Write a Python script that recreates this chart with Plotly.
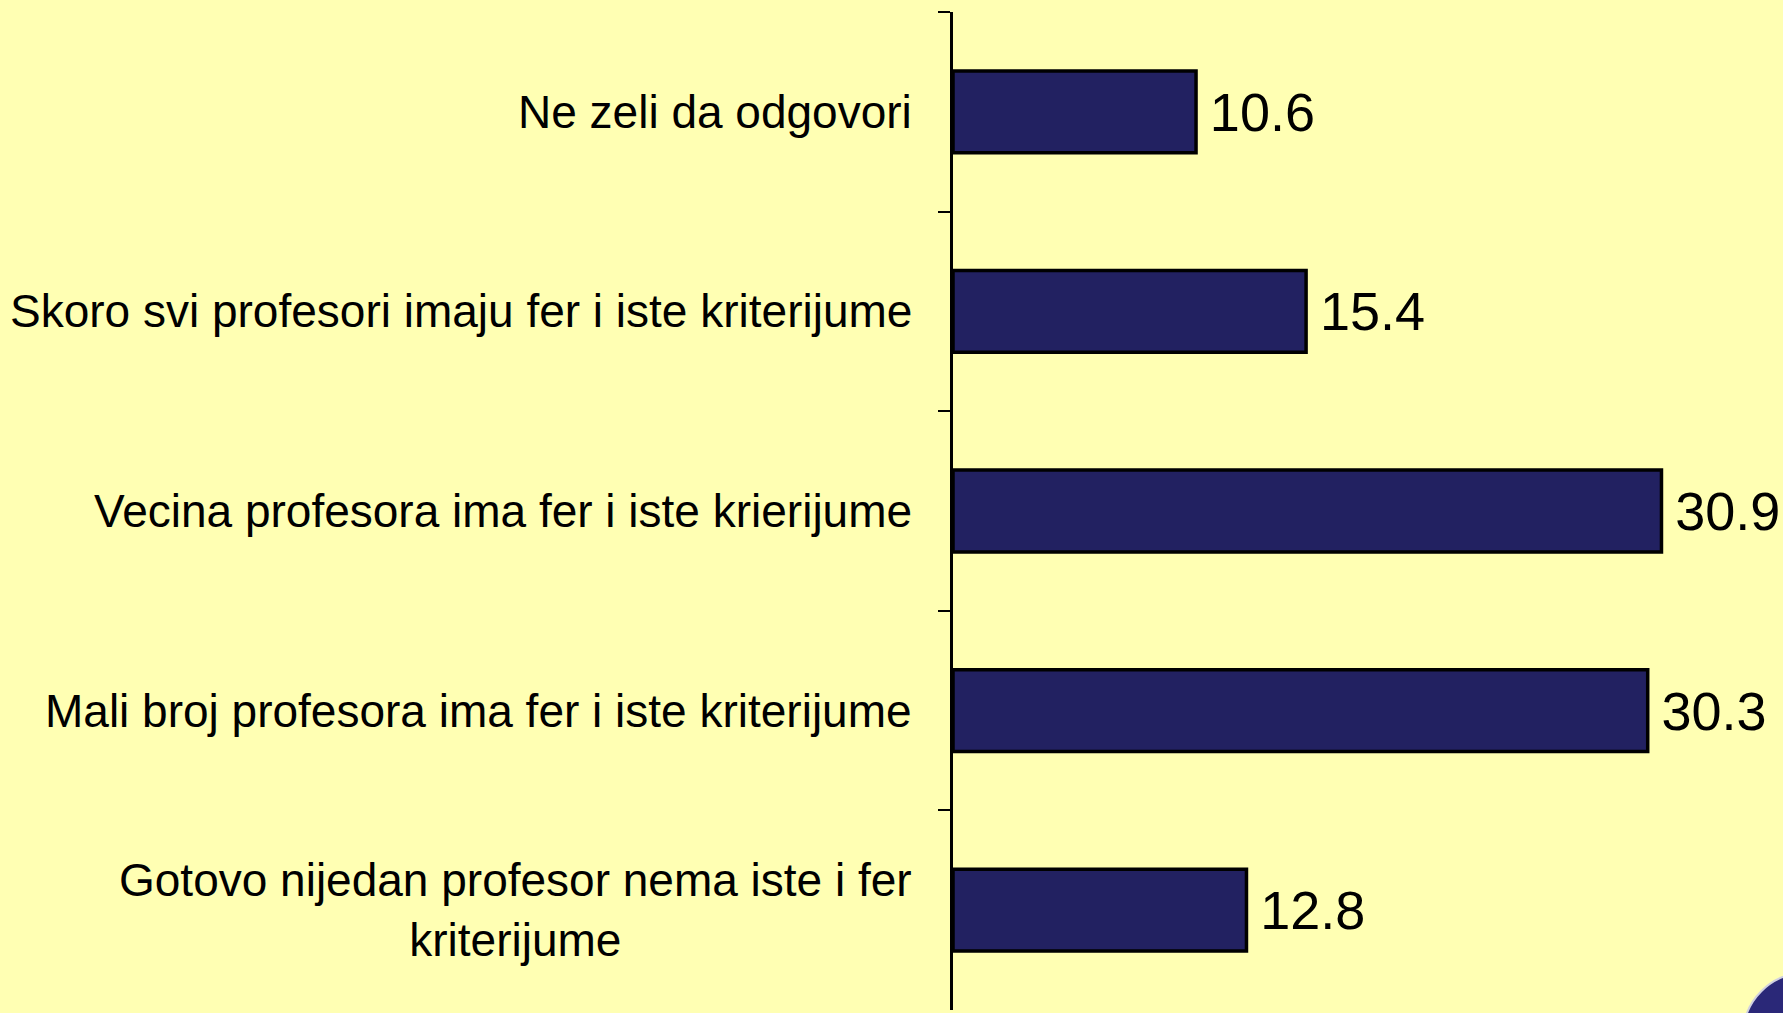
import plotly.graph_objects as go

# survey answers, top to bottom as in the slide
categories = [
    "Ne zeli da odgovori",
    "Skoro svi profesori imaju fer i iste kriterijume",
    "Vecina profesora ima fer i iste krierijume",
    "Mali broj profesora ima fer i iste kriterijume",
    "Gotovo nijedan profesor nema iste i fer<br>kriterijume",
]
values = [10.6, 15.4, 30.9, 30.3, 12.8]

bg = "#FFFFB3"
navy = "#222161"
font_family = "Liberation Sans, Arial, sans-serif"

fig = go.Figure()
fig.add_trace(go.Bar(
    x=values, y=categories, orientation="h",
    marker=dict(color=navy, line=dict(color="black", width=3.5)),
    text=[f"\u2009{v}" for v in values],
    textposition="outside", cliponaxis=False,
    textfont=dict(family=font_family, size=54, color="black"),
    hoverinfo="skip",
))

# category labels as annotations so the wrapped one stays centred
for c in categories:
    fig.add_annotation(x=0, y=c, xref="x", yref="y", text=c,
                       showarrow=False, xanchor="right", align="center",
                       xshift=-39,
                       font=dict(family=font_family, size=46, color="black"))

# corner of the university seal peeking in at bottom right
fig.add_shape(type="circle", xref="paper", yref="paper",
              x0=0.952, x1=1.101, y0=-0.087, y1=0.037,
              fillcolor="#2a2878", line=dict(color="#d0d0e0", width=2))

fig.update_layout(
    width=1783, height=1013,
    margin=dict(l=953, r=0, t=12, b=3),
    paper_bgcolor=bg, plot_bgcolor=bg,
    bargap=0.59, showlegend=False,
    xaxis=dict(range=[0, 36.2], visible=False),
    yaxis=dict(categoryorder="array", categoryarray=categories,
               autorange="reversed", showticklabels=False,
               showline=True, linecolor="black", linewidth=3,
               ticks="outside", tickson="boundaries", ticklen=12,
               tickwidth=2, tickcolor="black", showgrid=False),
)

fig.write_html("out.html", config={"displayModeBar": False},
               post_script="document.body.style.margin='0';")
